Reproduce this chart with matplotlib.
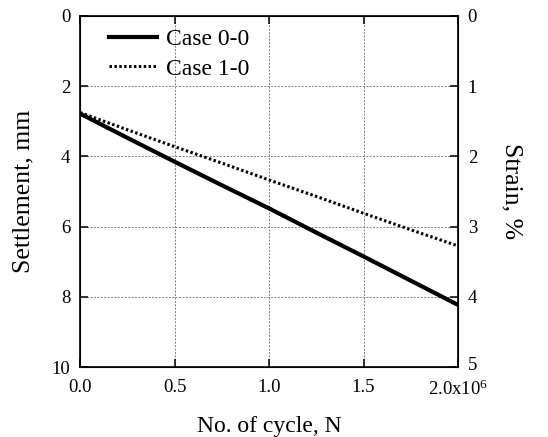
import numpy as np
import matplotlib.pyplot as plt
from matplotlib.transforms import ScaledTranslation

plt.rcParams['font.family'] = ['Liberation Serif', 'DejaVu Serif']
plt.rcParams['mathtext.default'] = 'regular'

# cycles in units of 10^6
cycles = [0.0, 0.25, 0.5, 0.75, 1.0, 1.25, 1.5, 1.75, 2.0]
case_00 = [2.78, 3.47, 4.15, 4.82, 5.48, 6.17, 6.85, 7.54, 8.23]
case_10 = [2.75, 3.24, 3.72, 4.19, 4.67, 5.14, 5.62, 6.09, 6.55]

xticks = [0.0, 0.5, 1.0, 1.5, 2.0]
xticklabels = ['0.0', '0.5', '1.0', '1.5', '2.0x10$^{6}$']

fig = plt.figure(figsize=(5.48, 4.37), dpi=100)
ax = fig.add_axes([80/548, 1 - 367/437, (458 - 80)/548, (367 - 16)/437])

ax.plot(cycles, case_00, color='black', lw=3.0, label='Case 0-0')
ax.plot(cycles, case_10, color='black', lw=2.2, ls=(0, (0.8, 0.8)), label='Case 1-0')

ax.set_xlim(0, 2.0)
ax.set_ylim(10, 0)
ax.set_xticks(xticks)
ax.set_xticklabels(xticklabels)
ax.set_yticks([0, 2, 4, 6, 8, 10])
ax.tick_params(direction='in', length=6, width=1.1, labelsize=13.5, top=True)
ax.tick_params(axis='x', pad=9)
ax.tick_params(axis='y', pad=7)
ax.grid(True, color='gray', ls=(0, (2, 1.5)), lw=0.7)
for s in ax.spines.values():
    s.set_linewidth(1.2)

ax.set_xlabel('No. of cycle, N', fontsize=17, labelpad=12)
ax.set_ylabel('Settlement, mm', fontsize=18.5, labelpad=12)

ax2 = ax.twinx()
ax2.set_ylim(5, 0)
ax2.set_yticks([0, 1, 2, 3, 4, 5])
ax2.tick_params(direction='in', length=6, width=1.1, labelsize=13.5, pad=7)
ax2.set_ylabel('Strain, %', fontsize=18.5, rotation=270, labelpad=33)
# nudge the bottom right label up a little, away from the x10^6
last = ax2.get_yticklabels()[-1]
last.set_transform(last.get_transform() + ScaledTranslation(0, 4/100, fig.dpi_scale_trans))

ax.legend(loc='upper left', frameon=False, fontsize=17, handlelength=2.0,
          handletextpad=0.4, borderaxespad=0.2, labelspacing=0.35,
          bbox_to_anchor=(0.04, 1.005))

fig.savefig('out.png', dpi=100)
